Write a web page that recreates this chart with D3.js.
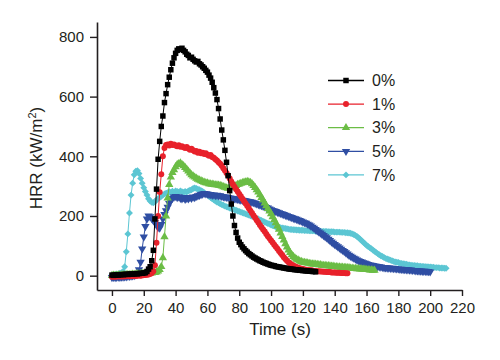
<!DOCTYPE html>
<html>
<head>
<meta charset="utf-8">
<script src="https://cdn.jsdelivr.net/npm/d3@7"></script>
<style>
  html, body { margin: 0; padding: 0; background: #fff; }
  svg { display: block; font-family: "Liberation Sans", Arial, sans-serif; }
</style>
</head>
<body>
<svg id="chart" width="500" height="360"></svg>
<script>
// ---- data (HRR in kW/m2, sampled every 1 s starting at t = 0) ----
const seriesNames = ["0%", "1%", "3%", "5%", "7%"];
const seriesColors = ["#000000", "#e8212b", "#6bbd45", "#2f4ea3", "#5cc6d3"];
const timeStep = 1;

const hrr0 = [2,1,2,3,2,3,4,3,4,5,4,5,6,5,6,7,6,7,8,8,9,10,
  14,22,30,50,85,190,290,390,450,
  500,535,580,610,640,665,690,712,730,745,
  755,760,758,762,755,750,742,738,730,732,
  725,720,716,718,710,706,700,695,688,682,
  672,662,648,630,612,590,560,525,488,455,
  420,380,335,285,240,200,168,145,126,112,
  104,96,90,84,79,74,70,66,62,59,
  56,53,50,48,45,43,41,39,37,35,
  34,33,31,30,29,28,27,26,25,24,
  23,22,22,21,20,20,19,18,18,17,
  17,16,16,15,15,14,14,13];

const hrr1 = [-4,-3,-4,-3,-2,-3,-2,-3,-2,-2,-1,-2,-1,-1,0,-1,0,1,0,1,2,2,3,
  4,6,9,15,35,110,200,280,
  340,400,428,438,440,436,442,438,440,436,
  434,437,432,434,430,428,431,426,422,425,
  420,416,418,412,415,410,412,408,410,405,
  402,404,398,395,390,386,380,375,368,360,
  352,344,336,326,316,306,298,290,282,274,
  266,258,250,242,234,226,218,210,202,194,
  186,178,170,162,155,148,140,132,125,118,
  111,104,97,90,83,76,69,62,56,50,
  45,41,37,34,31,29,27,25,23,22,
  21,20,19,18,18,17,16,16,15,15,
  14,14,13,13,12,12,12,11,11,11,10,10,10,9,9,9,8,8];

const hrr3 = [0,1,0,1,2,1,2,3,2,3,4,3,4,5,4,5,6,5,6,7,6,7,8,8,9,9,10,10,
  12,15,20,
  30,60,130,200,260,305,330,345,355,365,
  372,375,377,372,368,362,356,350,344,338,
  334,330,326,323,320,318,315,313,311,310,
  308,307,306,305,304,304,303,302,300,298,
  296,294,293,294,296,298,300,302,305,307,
  309,311,313,314,315,314,312,308,302,295,
  288,280,271,262,253,243,234,225,216,207,
  197,187,177,166,155,143,131,119,107,96,
  86,77,70,64,59,55,52,49,47,45,
  44,43,42,41,40,39,39,38,37,36,
  36,35,34,34,33,33,32,31,31,30,
  30,29,29,28,28,27,27,26,26,25,
  25,24,24,23,23,22,22,21,21,20,20,19,19,18,18];

const hrr5 = [-6,-5,-6,-5,-4,-5,-4,-4,-3,-3,-2,-2,-1,0,1,3,8,
  20,45,90,130,
  165,190,200,198,192,185,178,170,162,160,
  172,190,205,218,230,242,252,260,264,266,
  262,265,260,258,262,256,260,258,262,260,
  264,262,266,268,270,272,274,276,275,274,
  272,272,270,271,269,270,268,268,266,265,
  264,263,262,261,260,259,258,257,256,255,
  254,253,252,251,250,249,248,246,245,243,
  241,239,237,235,233,231,229,227,224,221,
  219,217,215,213,211,209,207,205,203,201,
  199,197,195,193,191,189,187,185,183,180,
  178,176,173,170,167,163,159,155,151,147,
  143,139,135,131,127,122,118,113,109,105,
  101,97,93,89,85,81,77,73,69,65,
  62,59,56,53,50,48,46,44,42,40,
  38,36,35,34,33,32,31,30,29,28,
  27,27,26,26,25,25,24,24,23,23,
  22,22,21,21,20,20,19,19,18,18,
  17,17,16,16,15,15,15,14,14,13];

const hrr7 = [2,3,4,5,6,8,10,14,
  30,80,140,
  210,270,310,338,350,352,342,326,310,295,
  282,270,258,250,246,244,248,254,258,262,
  266,270,274,276,278,281,279,283,280,284,
  282,280,284,281,279,282,280,284,286,288,
  292,294,292,290,288,285,282,278,274,270,
  266,262,258,254,250,247,244,241,238,236,
  233,231,229,227,225,223,221,219,217,215,
  213,211,209,207,205,203,201,199,197,195,
  192,190,187,185,182,180,177,175,173,170,
  168,166,164,163,162,161,160,159,158,157,
  156,155,155,154,154,153,153,152,152,152,
  151,151,151,150,150,150,150,149,149,149,
  149,148,148,148,148,147,147,147,147,146,
  146,146,146,145,145,145,144,144,143,142,
  140,138,135,131,127,122,117,112,107,102,
  98,94,90,86,82,78,74,70,67,64,
  61,58,56,54,52,50,48,46,45,44,
  42,41,40,39,38,37,36,35,34,34,
  33,33,32,32,31,31,30,30,29,29,
  28,28,27,27,27,26,26,26,25,25];

const xTicks = [0,20,40,60,80,100,120,140,160,180,200,220];
const yTicks = [0,200,400,600,800];
const xLabel = "Time (s)";

// ---- drawing ----
const allSeries = [hrr0, hrr1, hrr3, hrr5, hrr7];
const symbolTypes = [d3.symbolSquare, d3.symbolCircle, d3.symbolTriangle, d3.symbolTriangle, d3.symbolSquare];
const symbolSizes = [30, 28, 30, 30, 24];
const symbolRot = [0, 0, 0, 180, 45];

const svg = d3.select("#chart");
const x = d3.scaleLinear().domain([-9.4, 220]).range([97, 462]);
const y = d3.scaleLinear().domain([-48, 850]).range([290, 22]);
const textColor = "#231f20";

// series (draw 7% first so 0% ends on top)
const plot = svg.append("g");
for (let s = allSeries.length - 1; s >= 0; s--) {
  const pts = allSeries[s].map((v, i) => ({ t: i * timeStep, v }));
  const g = plot.append("g");
  g.append("path")
    .datum(pts)
    .attr("fill", "none")
    .attr("stroke", seriesColors[s])
    .attr("stroke-width", 1)
    .attr("d", d3.line().x(d => x(d.t)).y(d => y(d.v)));
  const sym = d3.symbol().type(symbolTypes[s]).size(symbolSizes[s])();
  g.selectAll("path.m")
    .data(pts)
    .join("path")
    .attr("class", "m")
    .attr("d", sym)
    .attr("fill", seriesColors[s])
    .attr("transform", d => `translate(${x(d.t)},${y(d.v)}) rotate(${symbolRot[s]})`);
}

// axes
const yAxis = svg.append("g")
  .attr("transform", "translate(97,0)")
  .call(d3.axisLeft(y).tickValues(yTicks).tickSize(7).tickSizeOuter(0).tickPadding(6));
const xAxis = svg.append("g")
  .attr("transform", "translate(0,290)")
  .call(d3.axisBottom(x).tickValues(xTicks).tickSize(6).tickSizeOuter(0).tickPadding(6));
[yAxis, xAxis].forEach(a => {
  a.select(".domain").attr("stroke", textColor).attr("stroke-width", 1.6);
  a.selectAll(".tick line").attr("stroke", textColor).attr("stroke-width", 1.4);
  a.selectAll(".tick text")
    .attr("fill", textColor)
    .style("font-size", "15px")
    .style("font-family", "'Liberation Sans', Arial, sans-serif");
});

// axis titles
svg.append("text")
  .attr("x", 280).attr("y", 335)
  .attr("text-anchor", "middle")
  .attr("fill", textColor)
  .style("font-size", "17px")
  .text(xLabel);

const yt = svg.append("text")
  .attr("transform", "translate(42,158) rotate(-90)")
  .attr("text-anchor", "middle")
  .attr("fill", textColor)
  .style("font-size", "17px");
yt.append("tspan").text("HRR (kW/m");
yt.append("tspan").attr("dy", -6).style("font-size", "11px").text("2");
yt.append("tspan").attr("dy", 6).text(")");

// legend
const legend = svg.append("g");
seriesNames.forEach((name, i) => {
  const cy = 80.5 + i * 23.6;
  const g = legend.append("g").attr("transform", `translate(0,${cy})`);
  g.append("line").attr("x1", 328).attr("x2", 364).attr("y1", 0).attr("y2", 0)
    .attr("stroke", seriesColors[i]).attr("stroke-width", 1.3);
  g.append("path")
    .attr("d", d3.symbol().type(symbolTypes[i]).size(symbolSizes[i])())
    .attr("fill", seriesColors[i])
    .attr("transform", `translate(346,0) rotate(${symbolRot[i]})`);
  g.append("text").attr("x", 372).attr("y", 0).attr("dy", "0.35em")
    .attr("fill", textColor)
    .style("font-size", "16px")
    .text(name);
});
</script>
</body>
</html>
